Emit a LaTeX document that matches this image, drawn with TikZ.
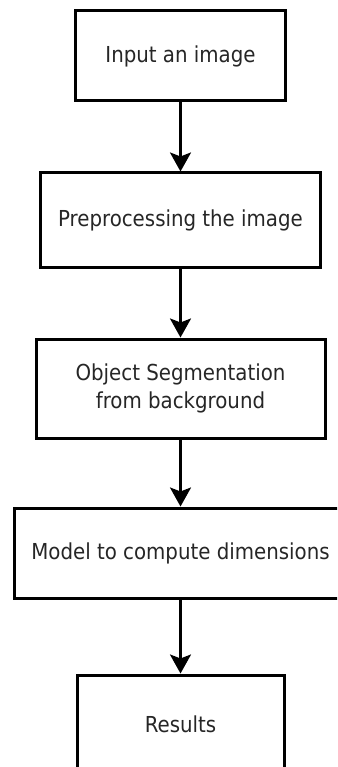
\documentclass[tikz,border=0pt]{standalone}
\usepackage{fontspec}
\setmainfont{DejaVu Sans Condensed}
\usetikzlibrary{arrows.meta}
\begin{document}
\begin{tikzpicture}[x=1pt, y=-1pt, font=\fontsize{22}{28}\selectfont,
    stepbox/.style={draw, line width=3pt, minimum height=#1, inner sep=0pt, align=center, text=black!85},
    flow/.style={line width=2.7pt, -{Stealth[length=19pt, width=21pt, inset=4pt]}}]
    \useasboundingbox (0,0) rectangle (337,767);
    \clip (0,0) rectangle (337,767);
    \node[stepbox=90pt, minimum width=210pt] (input) at (180.5, 56) {Input an image};
    \node[stepbox=94pt, minimum width=280pt] (prep) at (180.5, 220) {Preprocessing the image};
    \node[stepbox=99pt, minimum width=289pt] (seg) at (180.5, 388.5) {Object Segmentation\\from background};
    \node[stepbox=90pt, minimum width=332pt] (model) at (180.5, 553) {Model to compute dimensions};
    \node[stepbox=98pt, minimum width=207pt] (res) at (180.5, 724) {Results};
    \draw[flow] (input) -- (prep);
    \draw[flow] (prep) -- (seg);
    \draw[flow] (seg) -- (model);
    \draw[flow] (model) -- (res);
  \end{tikzpicture}
\end{document}
